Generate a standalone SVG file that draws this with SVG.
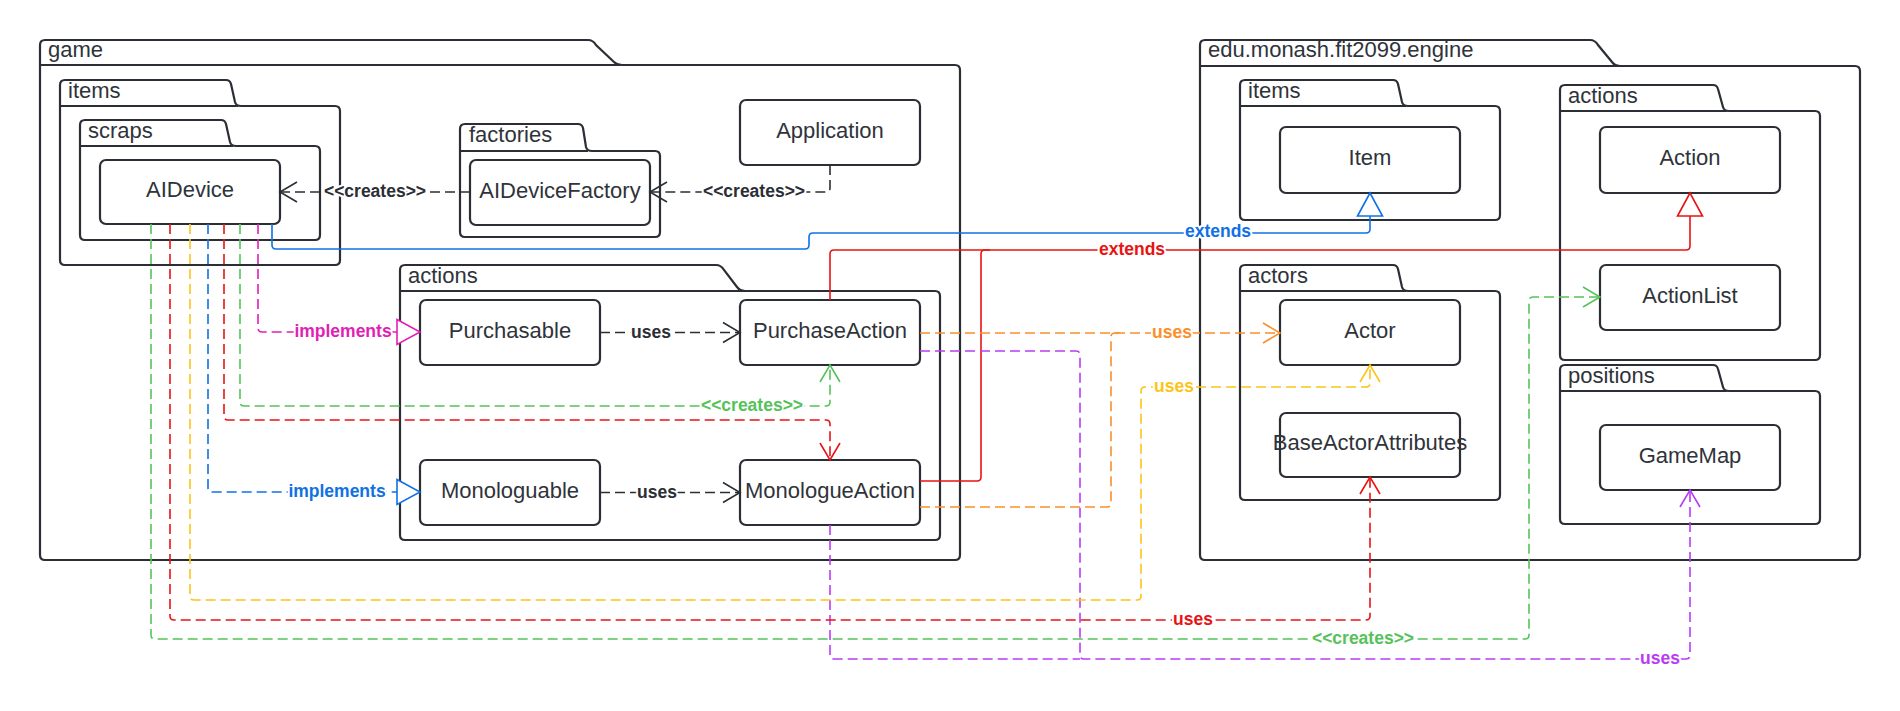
<svg xmlns="http://www.w3.org/2000/svg" width="1900" height="711" viewBox="0 0 1900 711">
<style>
.pkg{fill:#fff;stroke:#2b2e35;stroke-width:2.2}
.hdr{fill:none;stroke:#2b2e35;stroke-width:2.2}
.box{fill:#fff;stroke:#2b2e35;stroke-width:2.2}
.t{font-family:"Liberation Sans",Arial,sans-serif;font-size:22px;fill:#2f333a}
.nt{text-anchor:middle}
.lbl{font-family:"Liberation Sans",Arial,sans-serif;font-size:17.5px;font-weight:bold;text-anchor:middle;stroke:#fff;stroke-width:4;paint-order:stroke;stroke-linejoin:round}
.c{fill:none;stroke-width:1.6}
.d{stroke-dasharray:10 5}
.k{stroke:#2b2e35}.kf{fill:#2b2e35}
.b{stroke:#1071e5}.bf{fill:#1071e5}
.r{stroke:#e81313}.rf{fill:#e81313}
.g{stroke:#55c25a}.gf{fill:#55c25a}
.y{stroke:#fcc419}.yf{fill:#fcc419}
.o{stroke:#fb8f2a}.of{fill:#fb8f2a}
.p{stroke:#b83cf5}.pf{fill:#b83cf5}
.m{stroke:#e11fb5}.mf{fill:#e11fb5}
</style>
<defs>
<marker id="oK" markerUnits="userSpaceOnUse" orient="auto" overflow="visible" refX="0" refY="0" markerWidth="1" markerHeight="1"><path d="M-17,-10 L0,0 L-17,10" fill="none" stroke="#2b2e35" stroke-width="1.6"/></marker>
<marker id="oR" markerUnits="userSpaceOnUse" orient="auto" overflow="visible" refX="0" refY="0" markerWidth="1" markerHeight="1"><path d="M-17,-10 L0,0 L-17,10" fill="none" stroke="#e81313" stroke-width="1.6"/></marker>
<marker id="oG" markerUnits="userSpaceOnUse" orient="auto" overflow="visible" refX="0" refY="0" markerWidth="1" markerHeight="1"><path d="M-17,-10 L0,0 L-17,10" fill="none" stroke="#55c25a" stroke-width="1.6"/></marker>
<marker id="oY" markerUnits="userSpaceOnUse" orient="auto" overflow="visible" refX="0" refY="0" markerWidth="1" markerHeight="1"><path d="M-17,-10 L0,0 L-17,10" fill="none" stroke="#fcc419" stroke-width="1.6"/></marker>
<marker id="oO" markerUnits="userSpaceOnUse" orient="auto" overflow="visible" refX="0" refY="0" markerWidth="1" markerHeight="1"><path d="M-17,-10 L0,0 L-17,10" fill="none" stroke="#fb8f2a" stroke-width="1.6"/></marker>
<marker id="oP" markerUnits="userSpaceOnUse" orient="auto" overflow="visible" refX="0" refY="0" markerWidth="1" markerHeight="1"><path d="M-17,-10 L0,0 L-17,10" fill="none" stroke="#b83cf5" stroke-width="1.6"/></marker>
<marker id="tM" markerUnits="userSpaceOnUse" orient="auto" overflow="visible" refX="0" refY="0" markerWidth="1" markerHeight="1"><path d="M0,-12.5 L23,0 L0,12.5 Z" fill="#fff" stroke="#e11fb5" stroke-width="1.6"/></marker>
<marker id="tB" markerUnits="userSpaceOnUse" orient="auto" overflow="visible" refX="0" refY="0" markerWidth="1" markerHeight="1"><path d="M0,-12.5 L23,0 L0,12.5 Z" fill="#fff" stroke="#1071e5" stroke-width="1.6"/></marker>
<marker id="tR" markerUnits="userSpaceOnUse" orient="auto" overflow="visible" refX="0" refY="0" markerWidth="1" markerHeight="1"><path d="M0,-12.5 L23,0 L0,12.5 Z" fill="#fff" stroke="#e81313" stroke-width="1.6"/></marker>
</defs>
<rect width="1900" height="711" fill="#fff"/>

<g id="pkg-game">
<path class="pkg" d="M45,40 H588 Q593,40 596,45 L614,62 Q617,65 622,65 H955 Q960,65 960,70 V555 Q960,560 955,560 H45 Q40,560 40,555 V45 Q40,40 45,40 Z"/>
<path class="hdr" d="M40,65 H620"/>
<text class="t" x="48" y="57">game</text>
</g>
<g id="pkg-game-items">
<path class="pkg" d="M65,80 H226 Q230,80 231,84 L235,102 Q236,106 241,106 H335 Q340,106 340,111 V260 Q340,265 335,265 H65 Q60,265 60,260 V85 Q60,80 65,80 Z"/>
<path class="hdr" d="M60,106 H238"/>
<text class="t" x="68" y="98">items</text>
</g>
<g id="pkg-scraps">
<path class="pkg" d="M85,120 H221 Q225,120 226,124 L230,142 Q231,146 236,146 H315 Q320,146 320,151 V235 Q320,240 315,240 H85 Q80,240 80,235 V125 Q80,120 85,120 Z"/>
<path class="hdr" d="M80,146 H233"/>
<text class="t" x="88" y="138">scraps</text>
</g>
<g id="pkg-factories">
<path class="pkg" d="M465,124 H578 Q582,124 583,128 L586,147 Q587,151 592,151 H655 Q660,151 660,156 V232 Q660,237 655,237 H465 Q460,237 460,232 V129 Q460,124 465,124 Z"/>
<path class="hdr" d="M460,151 H588"/>
<text class="t" x="469" y="142">factories</text>
</g>
<g id="pkg-game-actions">
<path class="pkg" d="M405,265 H716 Q721,265 724,270 L737,287 Q740,291 745,291 H935 Q940,291 940,296 V535 Q940,540 935,540 H405 Q400,540 400,535 V270 Q400,265 405,265 Z"/>
<path class="hdr" d="M400,291 H742"/>
<text class="t" x="408" y="283">actions</text>
</g>

<g id="pkg-engine">
<path class="pkg" d="M1205,40 H1590 Q1595,40 1598,45 L1612,62 Q1615,66 1620,66 H1855 Q1860,66 1860,71 V555 Q1860,560 1855,560 H1205 Q1200,560 1200,555 V45 Q1200,40 1205,40 Z"/>
<path class="hdr" d="M1200,66 H1618"/>
<text class="t" x="1208" y="57">edu.monash.fit2099.engine</text>
</g>
<g id="pkg-engine-items">
<path class="pkg" d="M1245,80 H1393 Q1397,80 1398,84 L1402,102 Q1403,106 1408,106 H1495 Q1500,106 1500,111 V215 Q1500,220 1495,220 H1245 Q1240,220 1240,215 V85 Q1240,80 1245,80 Z"/>
<path class="hdr" d="M1240,106 H1406"/>
<text class="t" x="1248" y="98">items</text>
</g>
<g id="pkg-engine-actions">
<path class="pkg" d="M1565,85 H1713 Q1717,85 1718,89 L1723,107 Q1724,111 1729,111 H1815 Q1820,111 1820,116 V355 Q1820,360 1815,360 H1565 Q1560,360 1560,355 V90 Q1560,85 1565,85 Z"/>
<path class="hdr" d="M1560,111 H1727"/>
<text class="t" x="1568" y="103">actions</text>
</g>
<g id="pkg-actors">
<path class="pkg" d="M1245,265 H1393 Q1397,265 1398,269 L1402,287 Q1403,291 1408,291 H1495 Q1500,291 1500,296 V495 Q1500,500 1495,500 H1245 Q1240,500 1240,495 V270 Q1240,265 1245,265 Z"/>
<path class="hdr" d="M1240,291 H1406"/>
<text class="t" x="1248" y="283">actors</text>
</g>
<g id="pkg-positions">
<path class="pkg" d="M1565,365 H1713 Q1717,365 1718,369 L1723,387 Q1724,391 1729,391 H1815 Q1820,391 1820,396 V519 Q1820,524 1815,524 H1565 Q1560,524 1560,519 V370 Q1560,365 1565,365 Z"/>
<path class="hdr" d="M1560,391 H1727"/>
<text class="t" x="1568" y="383">positions</text>
</g>

<g id="AIDevice"><rect class="box" x="100" y="160" width="180" height="64" rx="6"/><text class="t nt" x="190" y="197">AIDevice</text></g>
<g id="AIDeviceFactory"><rect class="box" x="470" y="160" width="180" height="65" rx="6"/><text class="t nt" x="560" y="197.5">AIDeviceFactory</text></g>
<g id="Application"><rect class="box" x="740" y="100" width="180" height="65" rx="6"/><text class="t nt" x="830" y="137.5">Application</text></g>
<g id="Purchasable"><rect class="box" x="420" y="300" width="180" height="65" rx="6"/><text class="t nt" x="510" y="337.5">Purchasable</text></g>
<g id="PurchaseAction"><rect class="box" x="740" y="300" width="180" height="65" rx="6"/><text class="t nt" x="830" y="337.5">PurchaseAction</text></g>
<g id="Monologuable"><rect class="box" x="420" y="460" width="180" height="65" rx="6"/><text class="t nt" x="510" y="497.5">Monologuable</text></g>
<g id="MonologueAction"><rect class="box" x="740" y="460" width="180" height="65" rx="6"/><text class="t nt" x="830" y="497.5">MonologueAction</text></g>
<g id="Item"><rect class="box" x="1280" y="127" width="180" height="66" rx="6"/><text class="t nt" x="1370" y="165">Item</text></g>
<g id="Action"><rect class="box" x="1600" y="127" width="180" height="66" rx="6"/><text class="t nt" x="1690" y="165">Action</text></g>
<g id="ActionList"><rect class="box" x="1600" y="265" width="180" height="65" rx="6"/><text class="t nt" x="1690" y="302.5">ActionList</text></g>
<g id="Actor"><rect class="box" x="1280" y="300" width="180" height="65" rx="6"/><text class="t nt" x="1370" y="337.5">Actor</text></g>
<g id="BaseActorAttributes"><rect class="box" x="1280" y="413" width="180" height="64" rx="6"/><text class="t nt" x="1370" y="450">BaseActorAttributes</text></g>
<g id="GameMap"><rect class="box" x="1600" y="425" width="180" height="65" rx="6"/><text class="t nt" x="1690" y="462.5">GameMap</text></g>

<g id="connectors">
<path class="c d k" d="M470,192 H280" marker-end="url(#oK)"/>
<path class="c d k" d="M830,165 V188 Q830,192 826,192 H650" marker-end="url(#oK)"/>
<path class="c d k" d="M600,332.5 H740" marker-end="url(#oK)"/>
<path class="c d k" d="M600,492.5 H740" marker-end="url(#oK)"/>
<path class="c d m" d="M258,224 V328 Q258,332 262,332 H397" marker-end="url(#tM)"/>
<path class="c d b" d="M208,224 V488 Q208,492 212,492 H397" marker-end="url(#tB)"/>
<path class="c d r" d="M224,224 V416 Q224,420 228,420 H826 Q830,420 830,424 V460" marker-end="url(#oR)"/>
<path class="c d g" d="M240,224 V402 Q240,406 244,406 H826 Q830,406 830,402 V365" marker-end="url(#oG)"/>
<path class="c b" d="M272,224 V245 Q272,249 276,249 H805 Q809,249 809,245 V237 Q809,233 813,233 H1366 Q1370,233 1370,229 V216" marker-end="url(#tB)"/>
<path class="c r" d="M830,300 V254 Q830,250 834,250 H1686 Q1690,250 1690,246 V216" marker-end="url(#tR)"/>
<path class="c r" d="M920,481 H977 Q981,481 981,477 V254 Q981,250 985,250 H990"/>
<path class="c d o" d="M920,333 H1280" marker-end="url(#oO)"/>
<path class="c d o" d="M920,507 H1107 Q1111,507 1111,503 V337 Q1111,333 1115,333 H1120"/>
<path class="c d p" d="M920,351 H1076 Q1080,351 1080,355 V655 Q1080,659 1084,659 H1686 Q1690,659 1690,655 V490" marker-end="url(#oP)"/>
<path class="c d p" d="M830,525 V655 Q830,659 834,659 H1080"/>
<path class="c d y" d="M190,224 V596 Q190,600 194,600 H1137 Q1141,600 1141,596 V391 Q1141,387 1145,387 H1366 Q1370,387 1370,383 V365" marker-end="url(#oY)"/>
<path class="c d r" d="M170,224 V616 Q170,620 174,620 H1366 Q1370,620 1370,616 V477" marker-end="url(#oR)"/>
<path class="c d g" d="M151,224 V635 Q151,639 155,639 H1525 Q1529,639 1529,635 V301 Q1529,297 1533,297 H1600" marker-end="url(#oG)"/>
<text class="lbl kf" x="375" y="197">&lt;&lt;creates&gt;&gt;</text>
<text class="lbl kf" x="754" y="197">&lt;&lt;creates&gt;&gt;</text>
<text class="lbl kf" x="651" y="338">uses</text>
<text class="lbl kf" x="657" y="498">uses</text>
<text class="lbl mf" x="343" y="337">implements</text>
<text class="lbl bf" x="337" y="497">implements</text>
<text class="lbl gf" x="752" y="411">&lt;&lt;creates&gt;&gt;</text>
<text class="lbl bf" x="1218" y="237">extends</text>
<text class="lbl rf" x="1132" y="255">extends</text>
<text class="lbl of" x="1172" y="338">uses</text>
<text class="lbl yf" x="1174" y="392">uses</text>
<text class="lbl rf" x="1193" y="625">uses</text>
<text class="lbl gf" x="1363" y="644">&lt;&lt;creates&gt;&gt;</text>
<text class="lbl pf" x="1660" y="664">uses</text>
</g>
</svg>
